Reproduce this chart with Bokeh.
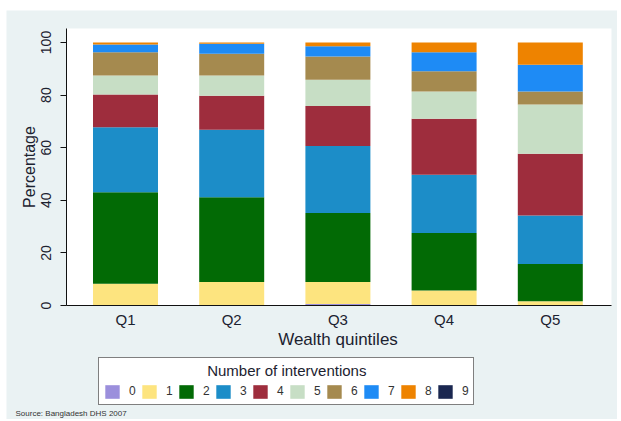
import math
from bokeh.plotting import figure
from bokeh.models import (ColumnDataSource, Range1d, Legend, LegendItem,
                          Label, FixedTicker, BoxAnnotation)
from bokeh.embed import file_html
from bokeh.resources import INLINE

quintiles = ["Q1", "Q2", "Q3", "Q4", "Q5"]
n_labels = ["0", "1", "2", "3", "4", "5", "6", "7", "8", "9"]
n0 = [0.0, 0.0, 0.6, 0.0, 0.0]
n1 = [8.3, 8.9, 8.3, 5.7, 1.6]
n2 = [34.8, 32.3, 26.3, 21.9, 14.2]
n3 = [24.7, 25.6, 25.4, 22.1, 18.4]
n4 = [12.4, 13.0, 15.3, 21.3, 23.5]
n5 = [7.3, 7.7, 9.9, 10.4, 18.7]
n6 = [8.8, 8.2, 8.9, 7.7, 5.0]
n7 = [2.9, 3.8, 3.9, 7.2, 10.1]
n8 = [0.8, 0.5, 1.4, 3.7, 8.5]
n9 = [0.0, 0.0, 0.0, 0.0, 0.0]
y_ticks = [0, 20, 40, 60, 80, 100]
colors = ["#9b8fdc", "#fde47f", "#026a05", "#1c8dc8", "#9e2d3d",
          "#c7dec5", "#a58a4f", "#1e8bf5", "#ee8300", "#1a2750"]

FONT = "Liberation Sans"
TXT = "#1c2230"
BG = "#eaf2f3"

# category positions on a numeric axis
xpos = list(range(1, len(quintiles) + 1))
stack_cols = ["n%d" % i for i in range(10)]
src = ColumnDataSource(dict(x=xpos, n0=n0, n1=n1, n2=n2, n3=n3, n4=n4,
                            n5=n5, n6=n6, n7=n7, n8=n8, n9=n9))

X_START, X_END = -0.1205, 5.6328
Y_START, Y_END = -43.35, 112.17
PLOT_L, PLOT_R = 0.4444, 5.5763   # plot-region left/right (x units)
PLOT_T = 105.32                   # plot-region top (y units)

p = figure(width=611, height=409, margin=(10, 0, 0, 6),
           x_range=Range1d(X_START, X_END), y_range=Range1d(Y_START, Y_END),
           output_backend="svg", toolbar_location=None,
           min_border=0, min_border_left=0, min_border_right=0,
           min_border_top=0, min_border_bottom=0)
p.border_fill_color = BG
p.background_fill_color = BG
p.outline_line_color = None
p.xgrid.grid_line_color = None
p.ygrid.grid_line_color = None

p.add_layout(BoxAnnotation(left=PLOT_L, right=PLOT_R, bottom=0, top=PLOT_T,
                           fill_color="white", fill_alpha=1.0, line_color=None,
                           level="underlay"))

rs = p.vbar_stack(stack_cols, x="x", width=0.612, source=src,
                  color=colors, line_color=None)

# y axis
p.yaxis.fixed_location = PLOT_L
p.yaxis.bounds = (0, PLOT_T)
p.yaxis.ticker = FixedTicker(ticks=y_ticks)
p.yaxis.major_label_orientation = "vertical"
p.yaxis.major_tick_out = 6
p.yaxis.major_tick_in = 0
p.yaxis.minor_tick_out = 0
p.yaxis.minor_tick_in = 0
p.yaxis.major_label_standoff = 9
p.yaxis.major_label_text_font_size = "14px"

# x axis
p.xaxis.fixed_location = 0
p.xaxis.bounds = (PLOT_L, PLOT_R)
p.xaxis.ticker = FixedTicker(ticks=xpos)
p.xaxis.major_label_overrides = {x: q for x, q in zip(xpos, quintiles)}
p.xaxis.major_tick_out = 0
p.xaxis.major_tick_in = 0
p.xaxis.minor_tick_out = 0
p.xaxis.minor_tick_in = 0
p.xaxis.major_label_standoff = 6
p.xaxis.major_label_text_font_size = "15px"

for ax in (p.xaxis, p.yaxis):
    ax.axis_line_color = "#111111"
    ax.major_tick_line_color = "#111111"
    ax.major_label_text_font = FONT
    ax.major_label_text_color = TXT

# axis titles (screen px inside the full-figure frame)
p.add_layout(Label(x=23, y=252.5, x_units="screen", y_units="screen",
                   text="Percentage", angle=math.pi / 2, text_align="center",
                   text_baseline="middle", text_font=FONT, text_font_size="16px",
                   text_color=TXT))
p.add_layout(Label(x=331.5, y=80, x_units="screen", y_units="screen",
                   text="Wealth quintiles", text_align="center",
                   text_baseline="middle", text_font=FONT, text_font_size="17px",
                   text_color=TXT))

items = [LegendItem(label=n_labels[i], renderers=[rs[i]]) for i in range(10)]
legend = Legend(items=items, orientation="horizontal", location=(92, 14),
                title="\u00a0" * 25 + "Number of interventions",
                title_text_font=FONT, title_text_font_size="15px",
                title_text_font_style="normal", title_text_color=TXT,
                title_standoff=3,
                padding=4, spacing=4, margin=0,
                glyph_width=18, glyph_height=17, label_standoff=8,
                label_width=7, label_height=18,
                label_text_font=FONT, label_text_font_size="12px",
                label_text_color="#333333",
                border_line_color="black", border_line_width=1,
                background_fill_color="white", background_fill_alpha=1.0)
p.add_layout(legend, "center")

p.add_layout(Label(x=9, y=6, x_units="screen", y_units="screen",
                   text="Source: Bangladesh DHS 2007", text_align="left",
                   text_baseline="middle", text_font=FONT, text_font_size="8px",
                   text_color="#333333"))

open("out.html", "w").write(file_html(p, INLINE))
